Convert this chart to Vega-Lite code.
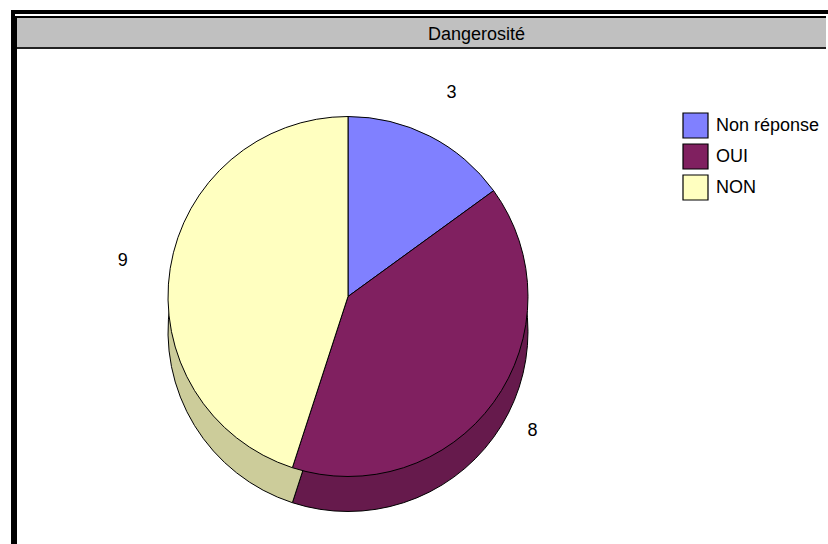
{
  "$schema": "https://vega.github.io/schema/vega-lite/v6.json",
  "background": "white",
  "padding": {"left": 11, "top": 10, "right": 0, "bottom": 0},
  "spacing": 0,
  "config": {
    "view": {"stroke": null},
    "font": "Liberation Sans",
    "concat": {"spacing": 0},
    "legend": {
      "orient": "none",
      "legendX": 665,
      "legendY": 63,
      "padding": 0,
      "symbolType": "square",
      "symbolSize": 625,
      "symbolStrokeColor": "black",
      "symbolStrokeWidth": 1.2,
      "symbolOpacity": 1,
      "labelFontSize": 18,
      "labelFont": "Liberation Sans",
      "labelColor": "black",
      "labelOffset": 7,
      "rowPadding": 0,
      "labelLimit": 300
    }
  },
  "datasets": {
    "pie": [
      {"cat": "Non réponse", "value": 3, "ord": 1},
      {"cat": "OUI", "value": 8, "ord": 2},
      {"cat": "NON", "value": 9, "ord": 3}
    ],
    "one": [{"title": "Dangerosité"}],
    "none": []
  },
  "vconcat": [
    {"width": 817, "height": 4, "data": {"name": "none"}, "mark": "rect", "encoding": {}, "view": {"fill": "black", "stroke": null}},
    {
      "hconcat": [
        {"width": 4, "height": 534, "data": {"name": "none"}, "mark": "rect", "encoding": {}, "view": {"fill": "black", "stroke": null}},
        {
          "vconcat": [
            {"width": 1, "height": 2, "data": {"name": "none"}, "mark": "rect", "encoding": {}, "view": {"stroke": null}},
            {"width": 811, "height": 2, "data": {"name": "none"}, "mark": "rect", "encoding": {}, "view": {"fill": "black", "stroke": null}},
            {
              "hconcat": [
                {"width": 2, "height": 526, "data": {"name": "none"}, "mark": "rect", "encoding": {}, "view": {"fill": "black", "stroke": null}},
                {
                  "vconcat": [
                    {
                      "width": 809,
                      "height": 29,
                      "view": {"fill": "#C0C0C0", "stroke": null},
                      "data": {"name": "one"},
                      "mark": {"type": "text", "fontSize": 18, "font": "Liberation Sans", "color": "black", "baseline": "alphabetic", "dx": 55, "dy": 7},
                      "encoding": {"text": {"field": "title"}}
                    },
                    {"width": 809, "height": 2, "data": {"name": "none"}, "mark": "rect", "encoding": {}, "view": {"fill": "#222222", "stroke": null}},
                    {
                      "width": 662,
                      "height": 495,
                      "data": {"name": "pie"},
                      "layer": [
                        {
                          "mark": {"type": "arc", "radius": 180, "yOffset": 35, "stroke": "black", "strokeWidth": 1},
                          "encoding": {
                            "theta": {"field": "value", "type": "quantitative", "stack": true},
                            "order": {"field": "ord", "type": "quantitative"},
                            "color": {"field": "cat", "type": "nominal", "scale": {"domain": ["Non réponse", "OUI", "NON"], "range": ["#6666CC", "#661A4C", "#CCCC9A"]}, "legend": null}
                          }
                        },
                        {
                          "mark": {"type": "arc", "radius": 180, "stroke": "black", "strokeWidth": 1},
                          "encoding": {
                            "theta": {"field": "value", "type": "quantitative", "stack": true},
                            "order": {"field": "ord", "type": "quantitative"},
                            "color": {"field": "cat", "type": "nominal", "scale": {"domain": ["Non réponse", "OUI", "NON"], "range": ["#8080FF", "#802060", "#FFFFC0"]}, "legend": {"title": null}}
                          }
                        },
                        {
                          "mark": {"type": "text", "radius": 228, "fontSize": 18, "font": "Liberation Sans", "color": "black"},
                          "encoding": {
                            "theta": {"field": "value", "type": "quantitative", "stack": true},
                            "order": {"field": "ord", "type": "quantitative"},
                            "text": {"field": "value", "type": "quantitative"}
                          }
                        }
                      ],
                      "resolve": {"scale": {"color": "independent"}}
                    }
                  ]
                }
              ]
            }
          ]
        }
      ]
    }
  ]
}
